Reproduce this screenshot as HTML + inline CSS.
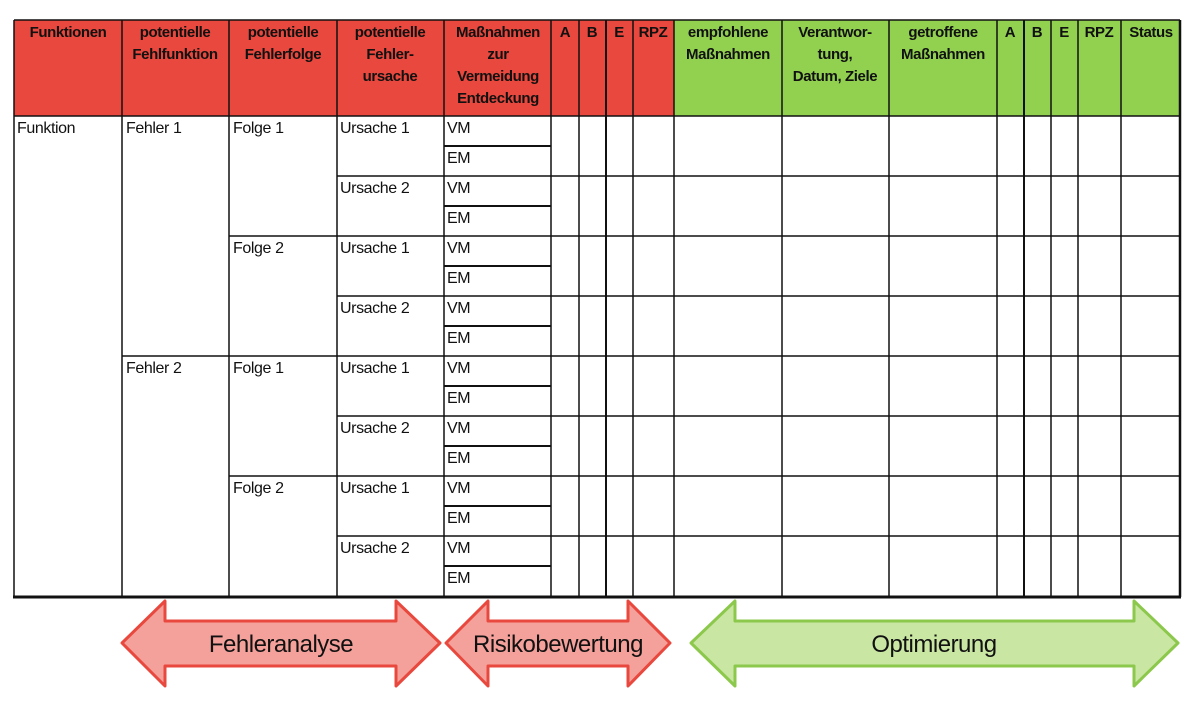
<!DOCTYPE html>
<html><head><meta charset="utf-8"><style>
body{margin:0;background:#fff;width:1200px;height:708px;overflow:hidden}
svg{display:block}
.h{font-family:"Liberation Sans",Arial,sans-serif;font-weight:bold;font-size:15px;letter-spacing:-0.4px;fill:#111}
.b{font-family:"Liberation Sans",Arial,sans-serif;font-size:16px;letter-spacing:-0.4px;fill:#111}
.a{font-family:"Liberation Sans",Arial,sans-serif;font-size:24px;letter-spacing:-0.5px;fill:#111}
</style></head><body>
<svg width="1200" height="708" viewBox="0 0 1200 708">
<rect x="14" y="20" width="660" height="96" fill="#e8483d"/>
<rect x="674" y="20" width="506" height="96" fill="#92d050"/>
<g stroke="#111" stroke-width="1.5" fill="none">
<line x1="14" y1="20" x2="1180" y2="20"/>
<line x1="14" y1="116" x2="1180" y2="116"/>
<line x1="14" y1="20" x2="14" y2="597"/>
<line x1="122" y1="20" x2="122" y2="597"/>
<line x1="229" y1="20" x2="229" y2="597"/>
<line x1="337" y1="20" x2="337" y2="597"/>
<line x1="444" y1="20" x2="444" y2="597"/>
<line x1="551" y1="20" x2="551" y2="597"/>
<line x1="579" y1="20" x2="579" y2="597"/>
<line x1="606" y1="20" x2="606" y2="597" stroke-width="2"/>
<line x1="633" y1="20" x2="633" y2="597"/>
<line x1="674" y1="20" x2="674" y2="597"/>
<line x1="782" y1="20" x2="782" y2="597"/>
<line x1="889" y1="20" x2="889" y2="597"/>
<line x1="997" y1="20" x2="997" y2="597"/>
<line x1="1024" y1="20" x2="1024" y2="597" stroke-width="2"/>
<line x1="1051" y1="20" x2="1051" y2="597"/>
<line x1="1078" y1="20" x2="1078" y2="597"/>
<line x1="1121" y1="20" x2="1121" y2="597"/>
<line x1="1180" y1="20" x2="1180" y2="597" stroke-width="2.5"/>
<line x1="122" y1="356" x2="1180" y2="356"/>
<line x1="229" y1="236" x2="1180" y2="236"/>
<line x1="229" y1="476" x2="1180" y2="476"/>
<line x1="337" y1="176" x2="1180" y2="176"/>
<line x1="337" y1="296" x2="1180" y2="296"/>
<line x1="337" y1="416" x2="1180" y2="416"/>
<line x1="337" y1="536" x2="1180" y2="536"/>
<g stroke-width="2">
<line x1="444" y1="146" x2="551" y2="146"/>
<line x1="444" y1="206" x2="551" y2="206"/>
<line x1="444" y1="266" x2="551" y2="266"/>
<line x1="444" y1="326" x2="551" y2="326"/>
<line x1="444" y1="386" x2="551" y2="386"/>
<line x1="444" y1="446" x2="551" y2="446"/>
<line x1="444" y1="506" x2="551" y2="506"/>
<line x1="444" y1="566" x2="551" y2="566"/>
</g>
<line x1="13" y1="597" x2="1181" y2="597" stroke-width="3"/>
</g>
<g class="h" text-anchor="middle">
<text x="68" y="37">Funktionen</text>
<text x="175" y="37">potentielle</text><text x="175" y="59">Fehlfunktion</text>
<text x="283" y="37">potentielle</text><text x="283" y="59">Fehlerfolge</text>
<text x="390" y="37">potentielle</text><text x="390" y="59">Fehler-</text><text x="390" y="81">ursache</text>
<text x="498" y="37">Maßnahmen</text><text x="498" y="59">zur</text><text x="498" y="81">Vermeidung</text><text x="498" y="103">Entdeckung</text>
<text x="565" y="37">A</text><text x="592" y="37">B</text><text x="619" y="37">E</text><text x="653" y="37">RPZ</text>
<text x="728" y="37">empfohlene</text><text x="728" y="59">Maßnahmen</text>
<text x="835" y="37">Verantwor-</text><text x="835" y="59">tung,</text><text x="835" y="81">Datum, Ziele</text>
<text x="943" y="37">getroffene</text><text x="943" y="59">Maßnahmen</text>
<text x="1010" y="37">A</text><text x="1037" y="37">B</text><text x="1064" y="37">E</text><text x="1099" y="37">RPZ</text><text x="1151" y="37">Status</text>
</g>
<g class="b">
<text x="17" y="133">Funktion</text>
<text x="126" y="133">Fehler 1</text><text x="126" y="373">Fehler 2</text>
<text x="233" y="133">Folge 1</text><text x="233" y="253">Folge 2</text>
<text x="233" y="373">Folge 1</text><text x="233" y="493">Folge 2</text>
<text x="340" y="133">Ursache 1</text><text x="340" y="193">Ursache 2</text>
<text x="340" y="253">Ursache 1</text><text x="340" y="313">Ursache 2</text>
<text x="340" y="373">Ursache 1</text><text x="340" y="433">Ursache 2</text>
<text x="340" y="493">Ursache 1</text><text x="340" y="553">Ursache 2</text>
<text x="447" y="133">VM</text><text x="447" y="163">EM</text>
<text x="447" y="193">VM</text><text x="447" y="223">EM</text>
<text x="447" y="253">VM</text><text x="447" y="283">EM</text>
<text x="447" y="313">VM</text><text x="447" y="343">EM</text>
<text x="447" y="373">VM</text><text x="447" y="403">EM</text>
<text x="447" y="433">VM</text><text x="447" y="463">EM</text>
<text x="447" y="493">VM</text><text x="447" y="523">EM</text>
<text x="447" y="553">VM</text><text x="447" y="583">EM</text>
</g>
<polygon points="122,643 165,601 165,621 396,621 396,601 440,643 396,686 396,666 165,666 165,686" fill="#f4a19b" stroke="#e8483d" stroke-width="3" stroke-linejoin="round"/>
<polygon points="446,643 488,601 488,621 628,621 628,601 670,643 628,686 628,666 488,666 488,686" fill="#f4a19b" stroke="#e8483d" stroke-width="3" stroke-linejoin="round"/>
<polygon points="691,643 735,601 735,621 1134,621 1134,601 1178,643 1134,686 1134,666 735,666 735,686" fill="#c9e6a3" stroke="#8cc84b" stroke-width="3" stroke-linejoin="round"/>
<g class="a" text-anchor="middle">
<text x="281" y="652">Fehleranalyse</text>
<text x="558" y="652">Risikobewertung</text>
<text x="934" y="652">Optimierung</text>
</g>
</svg>
</body></html>
